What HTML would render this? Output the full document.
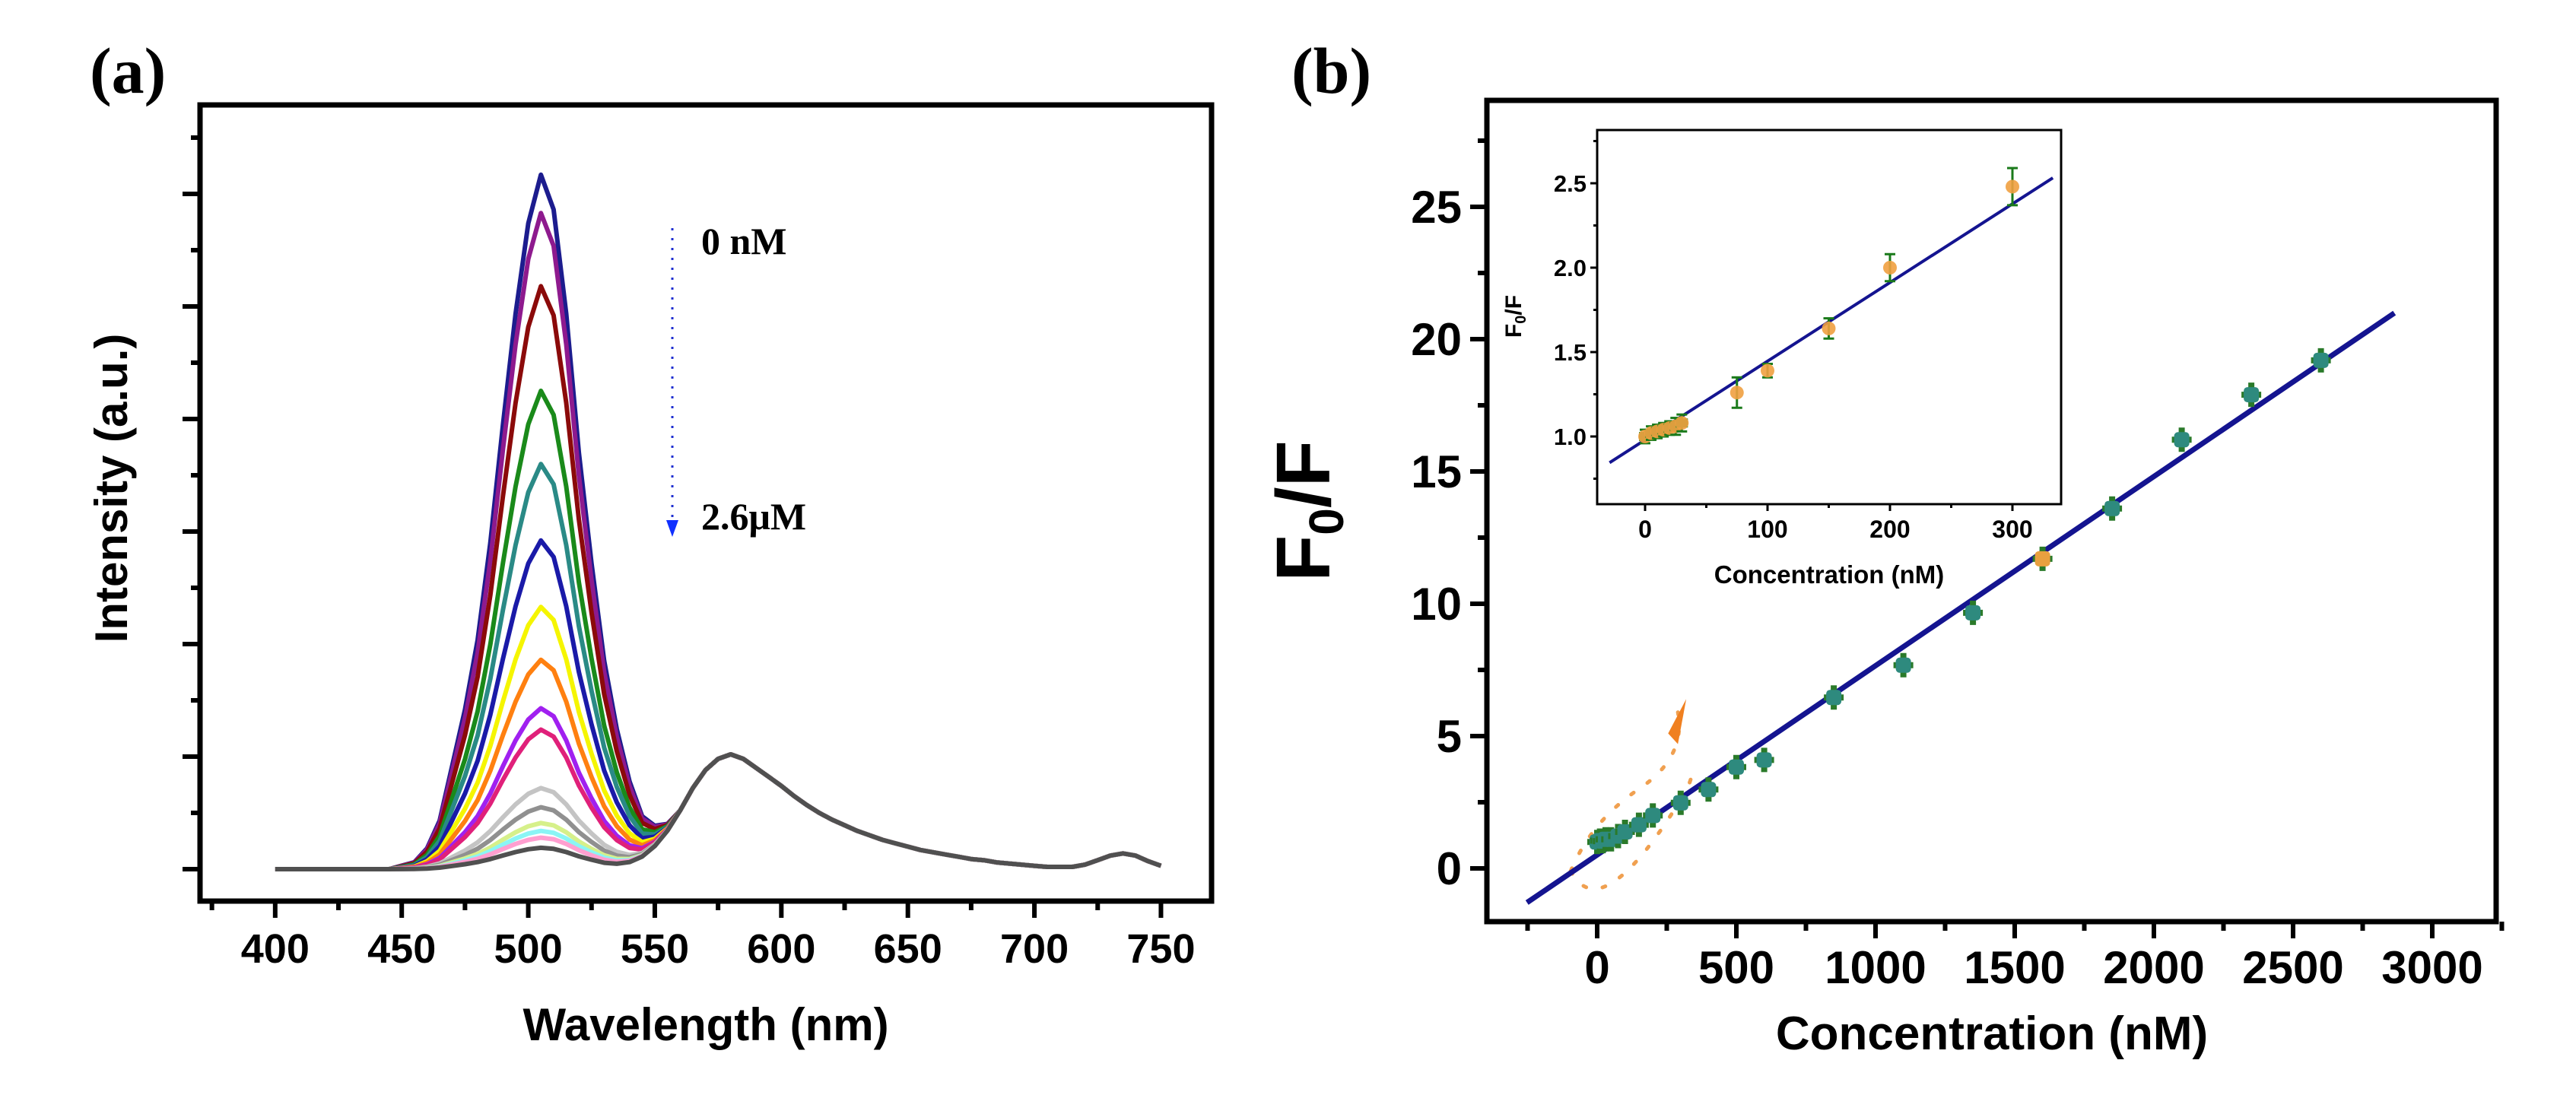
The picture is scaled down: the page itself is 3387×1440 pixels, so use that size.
<!DOCTYPE html>
<html><head><meta charset="utf-8">
<style>
html,body{margin:0;padding:0;background:#fff;}
svg{display:block;}
.sans{font-family:"Liberation Sans",Arial,sans-serif;font-weight:bold;}
.serif{font-family:"Liberation Serif","Times New Roman",serif;font-weight:bold;}
</style></head>
<body>
<svg id="fig" width="3387" height="1440" viewBox="0 0 3387 1440" xmlns="http://www.w3.org/2000/svg">
<rect width="3387" height="1440" fill="#fff"/>
<text x="118" y="122" class="serif" font-size="86">(a)</text>
<text x="1698" y="122" class="serif" font-size="86">(b)</text>
<g id="pa"></g>
<g id="pb"></g>
<g id="pi"></g>
</svg>
<script>
// ---------- Panel (a) data ----------
const waveStart = 400, waveStep = 5;
const shapeMain = [0,0,0,0,0,0,0,0,0,0,
 0.005,0.01,0.03,0.07,0.15,0.23,0.33,0.47,0.64,0.8,0.93,1,0.95,0.8,0.6,0.44,0.3,0.2,0.12,0.06,0.03,0.01,
 0,0,0,0,0,0,0,0,0,0,0,0,0,0,0,0,0,0,0,0,0,0,0,0,0,0,0,0,0,0,0,0,0,0,0,0,0,0,0];
const shapeRef = [0,0,0,0,0,0,0,0,0,0,0,0,0,0,0,0,0,0,0,0,0,0,0,0,0,0,0,
 0.01,0.04,0.1,0.2,0.34,0.52,0.72,0.88,0.98,1.02,0.98,0.9,0.82,0.74,0.65,0.57,0.5,0.44,0.39,0.34,0.3,0.26,0.23,0.2,0.17,0.15,0.13,0.11,0.09,0.08,0.06,0.05,0.04,0.03,0.02,0.02,0.02,0.04,0.08,0.12,0.14,0.12,0.07,0.03];
const peakHeights = [6.17,5.83,5.18,4.25,3.6,2.92,2.33,1.86,1.43,1.24,0.72,0.55,0.41,0.34,0.28,0.19];
const curveColors = ["#1c1c8e","#8e1a8e","#8b0a0a","#1a8a1a","#2a8a86","#1a1aa8","#f5f500","#ff8010","#a020f0","#e0207a","#c4c4c4","#909090","#d6f08a","#8af5f5","#ff9fd0","#505050"];
const aXTicks = [400,450,500,550,600,650,700,750];

// ---------- Panel (b) data ----------
const concMain = [0,10,20,30,50,75,100,150,200,300,400,500,600,850,1100,1350,1600,1850,2100,2350,2600];
const ratioMain = [1.0,1.05,1.03,1.1,1.1,1.22,1.38,1.65,2.0,2.48,2.98,3.83,4.1,6.46,7.68,9.66,11.7,13.6,16.2,17.9,19.2];
const fitMain = {slope:0.00715, intercept:0.51, x0:-252, x1:2864};
const bXTicks = [0,500,1000,1500,2000,2500,3000];
const bYTicks = [0,5,10,15,20,25];

// ---------- Inset data ----------
const concInset = [0,5,10,15,20,25,30,75,100,150,200,300];
const ratioInset = [1.0,1.02,1.03,1.04,1.05,1.06,1.08,1.26,1.39,1.64,2.0,2.48];
const errInset = [0.04,0.04,0.04,0.04,0.04,0.05,0.05,0.09,0.04,0.06,0.08,0.11];
const fitInset = {slope:0.00466, intercept:0.98, x0:-29, x1:333};
const iXTicks = [0,100,200,300];
const iYTicks = [1.0,1.5,2.0,2.5];

const NS = "http://www.w3.org/2000/svg";
function mk(parent, tag, attrs, text){
  const e = document.createElementNS(NS, tag);
  for (const k in attrs) e.setAttribute(k, attrs[k]);
  if (text !== undefined) e.textContent = text;
  parent.appendChild(e);
  return e;
}
function lin(d0,d1,r0,r1){ return v => r0 + (v-d0)*(r1-r0)/(d1-d0); }

// ================= Panel (a) =================
(function(){
  const g = document.getElementById('pa');
  const L=263,R=1593,T=138,B=1185;
  const xs = lin(370.3,770,L,R);
  const ys = lin(0,1,1143,995);
  const curves = mk(g,'g',{});
  
  
  for (let c = 0; c < peakHeights.length; c++) {
    const pts = [];
    for (let i=0;i<shapeMain.length;i++){
      const w = waveStart + i*waveStep;
      const v = peakHeights[c]*shapeMain[i] + (shapeRef[i]||0);
      pts.push(xs(w).toFixed(1)+','+ys(v).toFixed(1));
    }
    const p = mk(curves,'polyline',{points:pts.join(' '),fill:'none',stroke:curveColors[c],'stroke-width':6,'stroke-linejoin':'round'});
    
    
  }
  const fr = mk(g,'rect',{x:L,y:T,width:R-L,height:B-T,fill:'none',stroke:'#000','stroke-width':7});
  
  
  for (let w=375; w<=770; w+=25){
    const major = (w%50===0);
    mk(g,'line',{x1:xs(w),x2:xs(w),y1:B,y2:B+(major?22:12),stroke:'#000','stroke-width':6});
  }
  aXTicks.forEach(w=>{
    const t = mk(g,'text',{x:xs(w),y:1266,'text-anchor':'middle','class':'sans','font-size':54},String(w));
    
    
  });
  for (let k=0; k<=6.6; k+=0.5){
    const major = Math.abs(k-Math.round(k))<1e-6;
    mk(g,'line',{x1:L,x2:L-(major?23:12),y1:ys(k),y2:ys(k),stroke:'#000','stroke-width':6});
  }
  const xt = mk(g,'text',{x:928,y:1368,'text-anchor':'middle','class':'sans','font-size':60},'Wavelength (nm)');
  
  
  const yt = mk(g,'text',{x:0,y:0,'text-anchor':'middle','class':'sans','font-size':60,transform:'translate(167,642) rotate(-90)'},'Intensity (a.u.)');
  
  
  const ar = mk(g,'line',{x1:884,y1:300,x2:884,y2:690,stroke:'#2030d0','stroke-width':3,'stroke-dasharray':'3 10'});
  
  
  mk(g,'polygon',{points:'876,684 892,684 884,706',fill:'#1030ff'});
  const a1 = mk(g,'text',{x:922,y:334,'class':'serif','font-size':50},'0 nM');
  
  
  const a2 = mk(g,'text',{x:922,y:696,'class':'serif','font-size':50},'2.6\u03bcM');
  
  
})();

// ================= Panel (b) =================
(function(){
  const g = document.getElementById('pb');
  const L=1955,R=3282,T=132,B=1212;
  const xs = lin(0,500,2100,2283);
  const ys = lin(0,25,1142,272);
  const dd = mk(g,'g',{fill:'none',stroke:'#f0a050','stroke-width':5,'stroke-dasharray':'4 22','stroke-linecap':'round'});
  
  
  mk(dd,'path',{d:'M'+xs(-95)+','+ys(-0.1)+' Q'+xs(-40)+','+ys(-1.2)+' '+xs(60)+','+ys(-0.5)+' T'+xs(300)+','+ys(2.6)+' Q'+xs(360)+','+ys(3.6)+' '+xs(330)+','+ys(3.9)});
  mk(dd,'path',{d:'M'+xs(-95)+','+ys(-0.1)+' Q'+xs(-20)+','+ys(1.8)+' '+xs(150)+','+ys(3.0)+' T'+xs(290)+','+ys(5.9)});
  mk(g,'polygon',{points:xs(255)+','+ys(5.1)+' '+xs(320)+','+ys(6.4)+' '+xs(290)+','+ys(4.7),fill:'#f08020'});
  const fl = mk(g,'line',{x1:xs(fitMain.x0),y1:ys(fitMain.intercept+fitMain.slope*fitMain.x0),x2:xs(fitMain.x1),y2:ys(fitMain.intercept+fitMain.slope*fitMain.x1),stroke:'#141490','stroke-width':7});
  
  
  concMain.forEach((c,i)=>{
    const x=xs(c), y=ys(ratioMain[i]);
    const pg = mk(g,'g',{});
    
    
    mk(pg,'line',{x1:x,x2:x,y1:y-16,y2:y+16,stroke:'#2a7a2a','stroke-width':8});
    mk(pg,'line',{x1:x-13,x2:x+13,y1:y,y2:y,stroke:'#2a7a2a','stroke-width':8});
    mk(pg,'rect',{x:x-10,y:y-10,width:20,height:20,rx:5,fill: c===1600?'#e8a040':'#2e8a7e'});
  });
  const fr = mk(g,'rect',{x:L,y:T,width:R-L,height:B-T,fill:'none',stroke:'#000','stroke-width':7});
  
  
  for (let v=-250; v<=3250; v+=250){
    const major = v%500===0;
    mk(g,'line',{x1:xs(v),x2:xs(v),y1:B,y2:B+(major?22:12),stroke:'#000','stroke-width':6});
  }
  bXTicks.forEach(v=>{
    const t = mk(g,'text',{x:xs(v),y:1293,'text-anchor':'middle','class':'sans','font-size':60},String(v));
    
    
  });
  for (let v=0; v<=29; v+=2.5){
    const major = v%5===0;
    mk(g,'line',{x1:L,x2:L-(major?22:12),y1:ys(v),y2:ys(v),stroke:'#000','stroke-width':6});
  }
  bYTicks.forEach(v=>{
    const t = mk(g,'text',{x:1922,y:ys(v)+21,'text-anchor':'end','class':'sans','font-size':60},String(v));
    
    
  });
  const xt = mk(g,'text',{x:2619,y:1380,'text-anchor':'middle','class':'sans','font-size':62},'Concentration (nM)');
  
  
  const yt = mk(g,'text',{x:0,y:0,'text-anchor':'middle','class':'sans','font-size':100,transform:'translate(1748,672) rotate(-90)'});
  
  
  mk(yt,'tspan',{},'F');
  mk(yt,'tspan',{'font-size':64,dy:18},'0');
  mk(yt,'tspan',{dy:-18},'/F');
})();

// ================= Inset =================
(function(){
  const g = document.getElementById('pi');
  const L=2100,R=2710,T=171,B=663;
  const xs = lin(0,100,2163,2324);
  const ys = lin(1,2,574,352);
  mk(g,'rect',{x:L,y:T,width:R-L,height:B-T,fill:'#fff',stroke:'none'});
  const fl = mk(g,'line',{x1:xs(fitInset.x0),y1:ys(fitInset.intercept+fitInset.slope*fitInset.x0),x2:xs(fitInset.x1),y2:ys(fitInset.intercept+fitInset.slope*fitInset.x1),stroke:'#141490','stroke-width':4});
  
  
  concInset.forEach((c,i)=>{
    const x=xs(c), y=ys(ratioInset[i]), e=errInset[i]*222;
    const pg = mk(g,'g',{});
    
    
    mk(pg,'line',{x1:x,x2:x,y1:y-e,y2:y+e,stroke:'#1a7a1a','stroke-width':3});
    mk(pg,'line',{x1:x-7,x2:x+7,y1:y-e,y2:y-e,stroke:'#1a7a1a','stroke-width':3});
    mk(pg,'line',{x1:x-7,x2:x+7,y1:y+e,y2:y+e,stroke:'#1a7a1a','stroke-width':3});
    if (c<50) mk(pg,'rect',{x:x-8,y:y-6,width:16,height:12,fill:'#2a8a2a'});
    mk(pg,'circle',{cx:x,cy:y,r:9,fill:'#f0a040',opacity:0.9});
  });
  const fr = mk(g,'rect',{x:L,y:T,width:R-L,height:B-T,fill:'none',stroke:'#000','stroke-width':3});
  
  
  for (let v=0; v<=300; v+=50){
    const major = v%100===0;
    mk(g,'line',{x1:xs(v),x2:xs(v),y1:B,y2:B+(major?9:5),stroke:'#000','stroke-width':3});
  }
  iXTicks.forEach(v=>{
    const t = mk(g,'text',{x:xs(v),y:707,'text-anchor':'middle','class':'sans','font-size':32},String(v));
    
    
  });
  for (let v=0.75; v<=2.76; v+=0.25){
    const major = Math.abs(v*2-Math.round(v*2))<1e-6;
    mk(g,'line',{x1:L,x2:L-(major?9:5),y1:ys(v),y2:ys(v),stroke:'#000','stroke-width':3});
  }
  iYTicks.forEach(v=>{
    const t = mk(g,'text',{x:2086,y:ys(v)+11,'text-anchor':'end','class':'sans','font-size':31},v.toFixed(1));
    
    
  });
  const xt = mk(g,'text',{x:2405,y:767,'text-anchor':'middle','class':'sans','font-size':33},'Concentration (nM)');
  
  
  const yt = mk(g,'text',{x:0,y:0,'text-anchor':'middle','class':'sans','font-size':30,transform:'translate(2000,416) rotate(-90)'});
  
  
  mk(yt,'tspan',{},'F');
  mk(yt,'tspan',{'font-size':20,dy:6},'0');
  mk(yt,'tspan',{dy:-6},'/F');
})();
</script>
</body></html>
